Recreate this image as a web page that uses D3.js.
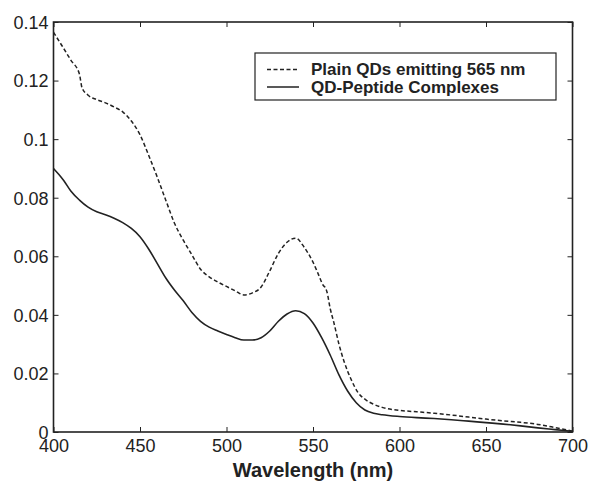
<!DOCTYPE html>
<html>
<head>
<meta charset="utf-8">
<script src="https://cdn.jsdelivr.net/npm/d3@7"></script>
<style>
  body { margin: 0; background: #fff; }
  svg text { font-family: "Liberation Sans", Arial, Helvetica, sans-serif; fill: #222; }
</style>
</head>
<body>
<div id="plot"></div>
<script>
/* absorption spectra, values */
var wavePlain = [400,405,410,415,416.5,420,425,430,435,440,445,450,455,460,465,470,475,480,485,490,495,500,505,510,515,520,525,530,535,540,545,550,553,556,557,558,560,562,565,568,572,576,580,585,590,600,610,620,630,640,650,660,670,680,690,700];
var plainQD = [0.1365,0.1318,0.1270,0.1222,0.1175,0.1150,0.1135,0.1124,0.1110,0.1093,0.1062,0.1015,0.0945,0.0870,0.0790,0.0712,0.0655,0.0605,0.0556,0.0530,0.0512,0.0497,0.0482,0.0468,0.0475,0.0495,0.0550,0.0610,0.0648,0.0662,0.0630,0.0580,0.0540,0.0500,0.0494,0.0480,0.0420,0.0375,0.0300,0.0240,0.0180,0.0135,0.0112,0.0095,0.0084,0.0074,0.0069,0.0064,0.0058,0.0051,0.0044,0.0038,0.0033,0.0026,0.0015,0.0003];

var waveComplex = [400,403,406,410,415,420,425,430,435,440,445,450,455,460,465,470,475,480,485,490,495,500,505,510,515,520,525,530,535,540,545,550,555,560,565,570,575,580,585,590,600,610,620,630,640,650,660,670,680,690,700];
var complexQD = [0.0900,0.0880,0.0858,0.0823,0.0792,0.0768,0.0752,0.0742,0.0730,0.0715,0.0695,0.0667,0.0625,0.0575,0.0525,0.0484,0.0448,0.0408,0.0378,0.0358,0.0345,0.0333,0.0322,0.0314,0.0314,0.0322,0.0345,0.0378,0.0403,0.0414,0.0404,0.0372,0.0322,0.0262,0.0195,0.0140,0.0100,0.0075,0.0064,0.0059,0.0053,0.0049,0.0046,0.0042,0.0037,0.0032,0.0027,0.0021,0.0014,0.0008,0.0002];

var xTicks = [400,450,500,550,600,650,700];
var yTicks = [0,0.02,0.04,0.06,0.08,0.1,0.12,0.14];
var yTickLabels = ['0','0.02','0.04','0.06','0.08','0.1','0.12','0.14'];
var legendNames = ['Plain QDs emitting 565 nm','QD-Peptide Complexes'];

var margin = {t:22, r:18.5, b:51, l:53.5};
var W = 591, H = 483;
var width = W - margin.l - margin.r,
    height = H - margin.t - margin.b;

var svg = d3.select('#plot').append('svg')
    .attr('width', W)
    .attr('height', H);

var plot = svg.append('g')
    .attr('transform', 'translate(' + margin.l + ',' + margin.t + ')');

var x = d3.scaleLinear().domain([400,700]).range([0,width]);
var y = d3.scaleLinear().domain([0,0.14]).range([height,0]);

// ticks point inward on all four sides
var tickLen = 5;
var xAxis = d3.axisBottom(x).tickValues(xTicks).tickSizeInner(-tickLen).tickSizeOuter(0).tickPadding(7);
var yAxis = d3.axisLeft(y).tickValues(yTicks).tickSizeInner(-tickLen).tickSizeOuter(0).tickPadding(5)
    .tickFormat(function(d,i){ return yTickLabels[i]; });

var gx = plot.append('g').attr('transform','translate(0,' + height + ')').call(xAxis);
var gy = plot.append('g').call(yAxis);
var gxTop = plot.append('g').call(d3.axisTop(x).tickValues(xTicks).tickSizeInner(-tickLen).tickSizeOuter(0).tickFormat(''));
var gyRight = plot.append('g').attr('transform','translate(' + width + ',0)')
    .call(d3.axisRight(y).tickValues(yTicks).tickSizeInner(-tickLen).tickSizeOuter(0).tickFormat(''));

[gx, gy, gxTop, gyRight].forEach(function(g){
    g.select('.domain').remove();
    g.selectAll('line').attr('stroke','#222').attr('stroke-width',1);
    g.selectAll('text').style('font-size','18px').attr('fill','#222');
});
gx.selectAll('text').attr('dy','0.71em');
gy.selectAll('text').attr('dy','0.35em');

// frame
plot.append('rect')
    .attr('width', width)
    .attr('height', height)
    .attr('fill','none')
    .attr('stroke','#222')
    .attr('stroke-width',1.6);

var line = d3.line()
    .x(function(d){ return x(d[0]); })
    .y(function(d){ return y(d[1]); })
    .curve(d3.curveMonotoneX);

plot.append('path')
    .datum(d3.zip(wavePlain, plainQD))
    .attr('d', line)
    .attr('fill','none')
    .attr('stroke','#222')
    .attr('stroke-width',1.5)
    .attr('stroke-dasharray','4,2.5');

plot.append('path')
    .datum(d3.zip(waveComplex, complexQD))
    .attr('d', line)
    .attr('fill','none')
    .attr('stroke','#222')
    .attr('stroke-width',1.6);

// x title
svg.append('text')
    .attr('x', margin.l + width/2)
    .attr('y', 477)
    .attr('text-anchor','middle')
    .style('font-size','20px')
    .style('font-weight','bold')
    .text('Wavelength (nm)');

// legend
var legend = svg.append('g').attr('transform','translate(255,53)');
legend.append('rect')
    .attr('width', 301)
    .attr('height', 47)
    .attr('fill','#fff')
    .attr('stroke','#222')
    .attr('stroke-width',1.2);

var legendRows = legend.selectAll('.row')
    .data(legendNames)
    .enter().append('g')
    .attr('class','row')
    .attr('transform', function(d,i){ return 'translate(0,' + (16.5 + i*17.5) + ')'; });

legendRows.append('line')
    .attr('x1',12).attr('x2',44)
    .attr('stroke','#222')
    .attr('stroke-width',1.5)
    .attr('stroke-dasharray', function(d,i){ return i === 0 ? '4,2.5' : null; });

legendRows.append('text')
    .attr('x',56)
    .attr('dy','0.35em')
    .style('font-size','17px')
    .style('font-weight','bold')
    .text(function(d){ return d; });
</script>
</body>
</html>
